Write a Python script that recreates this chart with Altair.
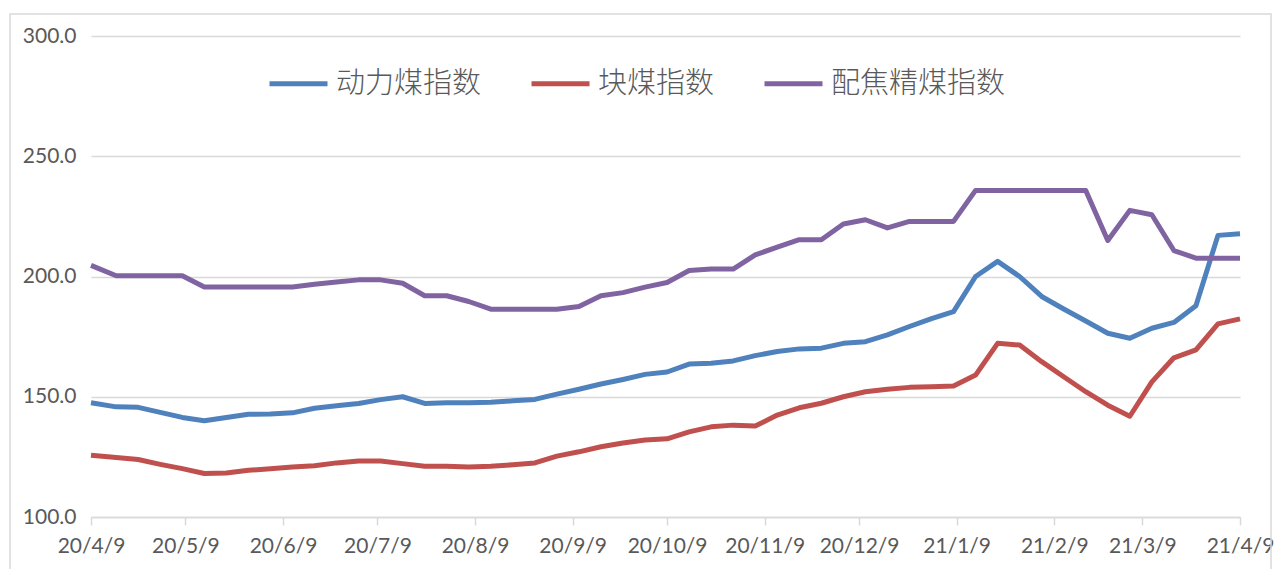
import altair as alt
import pandas as pd

# Weekly dates (first point 2020-04-09, then weekly)
dates = ["2020-04-09"] + [d.strftime("%Y-%m-%d") for d in pd.date_range("2020-04-17", periods=52, freq="7D")]

series_names = ["动力煤指数", "块煤指数", "配焦精煤指数"]
series_colors = ["#4f81bd", "#c0504d", "#8064a2"]

thermal = [147.5, 145.8, 145.6, 143.5, 141.4, 140.0, 141.4, 142.7, 142.8, 143.3,
           145.2, 146.3, 147.2, 148.8, 150.0, 147.2, 147.5, 147.5, 147.7, 148.3,
           148.9, 151.1, 153.1, 155.3, 157.2, 159.3, 160.3, 163.6, 163.9, 164.9,
           167.1, 168.8, 169.9, 170.2, 172.2, 172.9, 175.7, 179.2, 182.5, 185.4,
           200.0, 206.3, 200.0, 191.7, 186.5, 181.5, 176.4, 174.3, 178.5, 180.9,
           187.8, 217.1, 217.8]

lump = [125.7, 124.7, 123.9, 121.9, 120.1, 118.1, 118.3, 119.4, 120.1, 120.8,
        121.3, 122.5, 123.3, 123.3, 122.2, 121.1, 121.1, 120.8, 121.1, 121.7,
        122.5, 125.3, 127.1, 129.2, 130.8, 132.0, 132.5, 135.4, 137.5, 138.2,
        137.8, 142.4, 145.4, 147.3, 150.0, 152.1, 153.1, 153.9, 154.2, 154.5,
        159.0, 172.2, 171.5, 164.6, 158.3, 152.1, 146.5, 141.9, 156.2, 166.2,
        169.5, 180.3, 182.4]

coking = [204.6, 200.3, 200.3, 200.3, 200.3, 195.6, 195.6, 195.6, 195.6, 195.6,
          196.8, 197.7, 198.6, 198.6, 197.2, 192.0, 192.0, 189.6, 186.4, 186.4,
          186.4, 186.4, 187.5, 192.0, 193.3, 195.6, 197.5, 202.5, 203.1, 203.1,
          209.0, 212.2, 215.3, 215.3, 221.8, 223.6, 220.2, 222.9, 222.9, 222.9,
          235.8, 235.8, 235.8, 235.8, 235.8, 235.8, 215.0, 227.5, 225.7, 210.8,
          207.6, 207.6, 207.6]

tick_dates = ["2020-04-09", "2020-05-09", "2020-06-09", "2020-07-09", "2020-08-09",
              "2020-09-09", "2020-10-09", "2020-11-09", "2020-12-09", "2021-01-09",
              "2021-02-09", "2021-03-09", "2021-04-09"]

y_ticks = [100, 150, 200, 250, 300]

rows = []
for name, vals in zip(series_names, [thermal, lump, coking]):
    for d, v in zip(dates, vals):
        rows.append({"date": d, "series": name, "value": v})
df = pd.DataFrame(rows)


def utc_dt(s):
    y, m, d = (int(p) for p in s.split("-"))
    return alt.DateTime(year=y, month=m, date=d, utc=True)


GRID = "#d9d9d9"
TXT = "#595959"
NUMFONT = "Lato"
CJK = "Noto Sans CJK SC"

lines = alt.Chart(df).mark_line(strokeWidth=5, strokeJoin="round").encode(
    x=alt.X(
        "date:T",
        scale=alt.Scale(type="utc", domain=[utc_dt("2020-04-09"), utc_dt("2021-04-09")]),
        axis=alt.Axis(
            title=None,
            values=[utc_dt(t) for t in tick_dates],
            labelExpr="utcFormat(datum.value, '%y/%-m/%-d')",
            grid=False,
            domainColor=GRID,
            domainWidth=1.5,
            tickColor=GRID,
            tickWidth=1.5,
            tickSize=8,
            labelFont=NUMFONT,
            labelFontSize=21,
            labelColor=TXT,
            labelPadding=10,
            labelFlush=False,
            labelOverlap=False,
        ),
    ),
    y=alt.Y(
        "value:Q",
        scale=alt.Scale(domain=[100, 300], nice=False, zero=False),
        axis=alt.Axis(
            title=None,
            values=y_ticks,
            format=".1f",
            domain=False,
            ticks=False,
            grid=True,
            gridColor=GRID,
            gridWidth=1.5,
            labelFont=NUMFONT,
            labelFontSize=21,
            labelColor=TXT,
            labelPadding=15,
        ),
    ),
    color=alt.Color(
        "series:N",
        scale=alt.Scale(domain=series_names, range=series_colors),
        sort=series_names,
        legend=alt.Legend(
            title=None,
            orient="none",
            legendX=176,
            legendY=16,
            direction="horizontal",
            symbolType="stroke",
            symbolStrokeWidth=5,
            symbolSize=3364,
            labelFont=CJK,
            labelFontSize=29,
            labelFontWeight=300,
            labelColor=TXT,
            labelOffset=6,
            labelLimit=400,
            columnPadding=39,
            padding=0,
        ),
    ),
)

border = alt.Chart(pd.DataFrame({"k": [0]})).mark_rect(
    fillOpacity=0, stroke=GRID, strokeWidth=1.5
).encode(
    x=alt.value(-81), x2=alt.value(1180), y=alt.value(-22), y2=alt.value(545)
)

chart = alt.layer(border, lines).properties(
    width=1149,
    height=481,
    autosize=alt.AutoSizeParams(type="none"),
    padding={"left": 91, "top": 36, "right": 36, "bottom": 52},
    background="white",
).configure_view(stroke=None)

chart.save("out.html", embed_options={"renderer": "svg", "actions": False})
